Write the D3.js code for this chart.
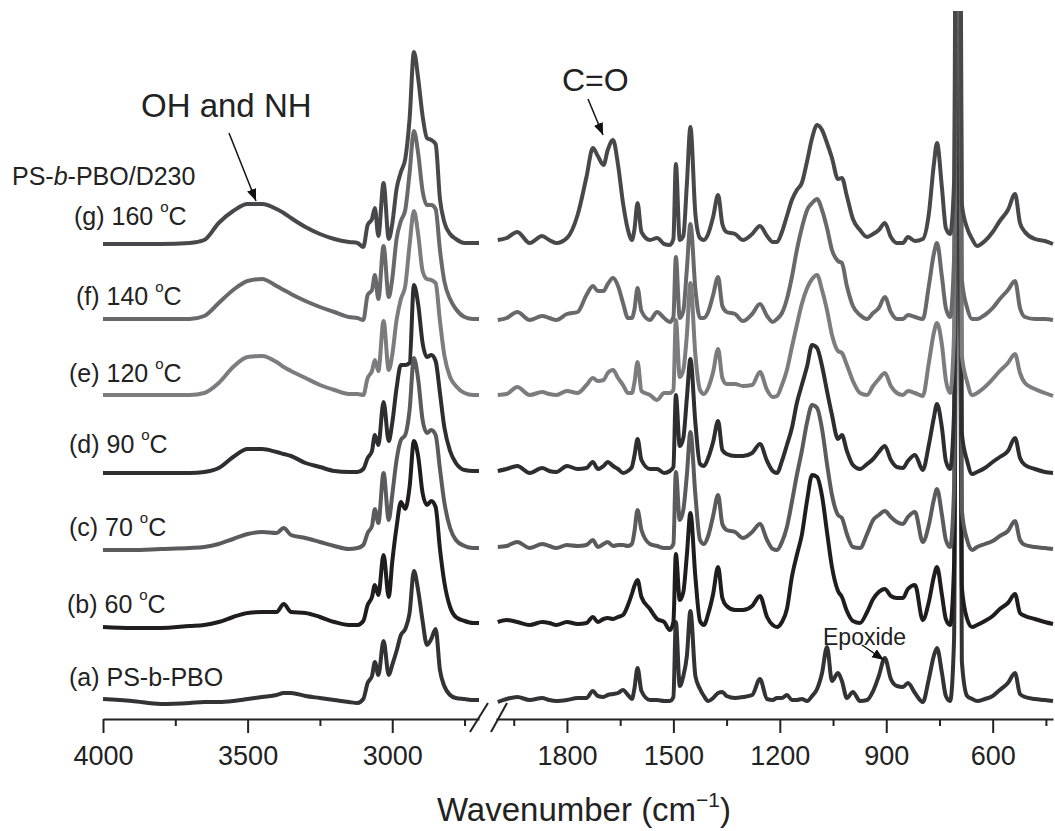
<!DOCTYPE html>
<html><head><meta charset="utf-8">
<script src="https://cdn.jsdelivr.net/npm/d3@7"></script>
<style>html,body{margin:0;padding:0;background:#fff;} svg{display:block;}</style>
</head><body>
<svg id="chart" width="1055" height="831"></svg>
<script>
// ---------- data ----------
const leftWavenumbers = [4000,3900,3800,3700,3650,3600,3550,3500,3450,3400,
  3375,3350,3300,3250,3200,3150,3120,3100,3085,3070,
  3060,3048,3030,3012,3000,2985,2970,2955,2940,2925,
  2910,2895,2880,2865,2850,2835,2820,2800,2780,2750,
  2720,2700];
const rightWavenumbers = [1995,1970,1940,1905,1870,1850,1830,1800,1770,1745,
  1727,1713,1697,1685,1670,1656,1642,1628,1617,1610,
  1601,1590,1566,1546,1526,1510,1500,1493,1482,1472,
  1462,1452,1438,1425,1414,1402,1388,1374,1362,1350,
  1326,1304,1278,1256,1236,1220,1208,1194,1180,1166,
  1152,1138,1123,1109,1095,1081,1067,1053,1036,1025,
  1011,994,974,954,937,921,904,887,870,853,
  839,819,797,780,766,757,743,732,720,709,
  698,687,672,658,644,622,600,580,557,537,
  523,509,481,453,430];

// intensities (a.u.) relative to each trace's own baseline
const aLeft = [2,0,-3,-2,-1,-1,0,2,4,6, 8,8,5,3,1,-1,-2,2,18,25, 39,26,60,26,36,50,66,72,88,130, 110,80,56,62,72,31,15,6,3,2, 1,1];
const bLeft = [0,-1,-1,1,2,5,10,14,15,15, 23,15,14,10,5,2,2,6,22,30, 42,32,72,30,65,100,125,118,140,186, 170,134,122,126,120,78,45,20,10,6, 4,4];
const cLeft = [0,0,1,2,3,6,11,16,18,17, 22,15,12,8,4,1,2,5,17,24, 41,27,77,30,55,90,110,115,140,192, 170,130,117,120,115,81,48,22,10,4, 2,2];
const dLeft = [0,0,0,0,1,5,16,24,24,21, 19,17,10,6,2,1,1,4,15,22, 38,28,71,32,50,85,108,108,110,188, 168,130,116,118,112,80,46,22,10,3, 2,2];
const eLeft = [0,0,0,0,2,12,28,38,39,33, 28,24,17,10,5,1,1,0,17,24, 35,24,74,25,40,75,96,109,150,184, 160,124,116,115,112,74,40,18,9,2, 0,0];
const fLeft = [0,0,0,0,3,16,29,38,40,33, 29,25,18,12,7,2,1,-1,24,29, 44,20,73,22,40,80,98,109,146,188, 165,128,114,114,110,69,38,20,10,2, 0,0];
const gLeft = [0,0,0,1,4,21,33,40,40,35, 31,26,17,10,5,2,1,-3,19,25, 36,8,61,5,20,55,72,85,125,192, 165,128,106,104,100,45,22,10,5,1, 1,1];

const aRight = [-1,2,4,1,3,1,0,1,3,3, 10,5,4,6,7,8,11,6,2,12, 33,10,1,1,0,0,4,79,15,25,
  45,90,25,12,5,0,3,8,9,5, 3,4,6,22,2,1,3,3,6,1, 1,2,0,5,12,28,54,20,28,20,
  3,9,0,1,10,25,43,22,15,14, 18,8,-1,22,45,53,28,5,0,60, 900,40,5,2,0,2,5,11,18,28, 7,4,2,1,0];
const bRight = [5,7,5,2,5,4,2,5,3,4, 10,5,8,9,8,10,12,22,33,41, 47,30,18,8,5,-3,5,73,27,35,
  72,114,50,6,2,13,33,60,29,21, 17,17,21,31,10,2,0,5,18,50, 72,92,127,152,150,131,95,60,36,30,
  16,6,4,15,28,35,38,31,29,29, 38,42,7,25,50,60,32,8,2,60, 900,40,8,0,2,6,11,18,24,33, 14,11,8,5,3];
const cRight = [3,4,8,2,6,4,2,5,4,5, 10,3,6,8,4,5,5,4,6,18, 40,20,6,4,2,2,6,78,30,40,
  75,118,55,10,6,14,34,55,26,20, 18,12,18,26,10,1,0,8,23,48, 75,99,128,145,142,121,86,55,35,32,
  16,3,2,16,30,35,39,33,28,26, 33,38,8,25,50,61,35,10,3,60, 900,40,10,0,3,6,9,14,19,29, 10,5,3,2,1];
const dRight = [2,4,7,0,5,2,1,7,4,5, 11,4,7,11,7,4,0,2,6,17, 34,13,4,4,0,2,6,78,27,35,
  75,114,50,9,7,15,31,52,23,19, 17,17,20,29,12,2,0,12,28,45, 70,88,107,128,125,107,82,58,34,38,
  22,8,4,9,14,21,27,13,6,5, 12,18,3,28,55,69,45,12,4,60, 900,40,12,-1,1,5,11,16,22,35, 15,8,4,1,0];
const eRight = [0,1,8,0,3,1,0,4,2,10, 17,14,15,22,25,17,10,2,2,12, 33,4,0,-5,2,2,5,75,18,25,
  60,112,40,5,1,7,23,46,17,11, 11,9,10,23,5,-2,-1,10,25,48, 70,91,107,116,120,105,85,60,44,42,
  30,14,2,0,9,16,22,9,2,0, 4,2,-1,32,62,72,50,15,2,60, 900,40,13,0,2,8,16,24,32,41, 22,12,6,2,-1];
const fRight = [-1,1,7,-1,3,1,-1,5,7,24, 33,28,28,35,41,33,16,1,1,9, 31,8,-1,7,1,-3,2,62,1,8,
  50,95,30,1,1,7,24,42,13,7, 5,-2,5,15,3,-3,0,6,20,42, 69,91,109,116,120,109,91,69,58,56,
  33,13,4,0,6,11,22,7,0,0, 4,2,0,33,65,76,42,11,2,60, 900,40,11,0,0,4,11,20,29,38, 11,2,0,0,-1];
const gRight = [4,6,12,1,8,4,1,6,29,67, 96,88,79,94,104,79,41,14,4,14, 41,12,4,6,0,-1,5,80,4,8,
  60,117,30,6,4,10,27,49,20,12, 10,4,10,18,8,2,2,12,28,44, 54,61,83,106,119,114,101,86,65,66,
  48,25,14,7,10,14,21,7,1,1, 7,3,5,30,79,101,56,16,10,60, 900,40,16,5,-2,3,12,23,34,50, 21,12,5,3,0];

const sampleLetters = ["a","b","c","d","e","f","g"];
const cureTemps = [null, 60, 70, 90, 120, 140, 160];
const traceOffsets = [18, 92, 169, 246, 324, 400, 475];

const leftMajorTicks = [4000, 3500, 3000];
const leftMinorTicks = [3750, 3250, 2750];
const rightMajorTicks = [1800, 1500, 1200, 900, 600];
const rightMinorTicks = [1950, 1650, 1350, 1050, 750, 450];

// ---------- drawing ----------
const traceColors = ["#333335","#201d1e","#5b5b5d","#2e2e30","#7c7c7e","#69696b","#48484a"];
const series = [
  {left:aLeft, right:aRight}, {left:bLeft, right:bRight}, {left:cLeft, right:cRight},
  {left:dLeft, right:dRight}, {left:eLeft, right:eRight}, {left:fLeft, right:fRight},
  {left:gLeft, right:gRight}
].map((s,i)=>({...s, letter:sampleLetters[i], temp:cureTemps[i], offset:traceOffsets[i], color:traceColors[i]}));

const svg = d3.select("#chart");
const font = "'Liberation Sans', Arial, Helvetica, sans-serif";
const xLeft = d3.scaleLinear().domain([4000, 2700]).range([103, 479]);
const xRight = d3.scaleLinear().domain([2000, 430]).range([496, 1053]);
const y = d3.scaleLinear().domain([0, 719]).range([719, 0]);

const defs = svg.append("defs");
defs.append("clipPath").attr("id","plotclip").append("rect")
  .attr("x",0).attr("y",11).attr("width",1055).attr("height",708);
defs.append("marker").attr("id","arrow").attr("viewBox","0 0 10 10")
  .attr("refX",10).attr("refY",5).attr("markerWidth",12).attr("markerHeight",12)
  .attr("markerUnits","userSpaceOnUse").attr("orient","auto")
  .append("path").attr("d","M0,1 L10,5 L0,9 Z").attr("fill","#111");

const plot = svg.append("g").attr("clip-path","url(#plotclip)");
series.forEach(s => {
  const lineL = d3.line().x((d,i)=>xLeft(leftWavenumbers[i])).y(d=>y(d + s.offset)).curve(d3.curveMonotoneX);
  const lineR = d3.line().x((d,i)=>xRight(rightWavenumbers[i])).y(d=>y(d + s.offset)).curve(d3.curveMonotoneX);
  plot.append("path").attr("d", lineL(s.left)).attr("fill","none").attr("stroke",s.color)
    .attr("stroke-width",4).attr("stroke-linejoin","round");
  plot.append("path").attr("d", lineR(s.right)).attr("fill","none").attr("stroke",s.color)
    .attr("stroke-width",4).attr("stroke-linejoin","round");
});

// axes
function styleAxis(g){
  g.selectAll("path.domain").attr("stroke","#222").attr("stroke-width",2);
  g.selectAll(".tick line").attr("stroke","#222").attr("stroke-width",2);
  g.selectAll(".tick text").attr("fill","#222").style("font-family",font).style("font-size","27px");
}
const axisY = 719;
[[xLeft,leftMajorTicks,leftMinorTicks],[xRight,rightMajorTicks,rightMinorTicks]].forEach(([sc,maj,min])=>{
  const gMaj = svg.append("g").attr("transform",`translate(0,${axisY})`)
    .call(d3.axisBottom(sc).tickValues(maj).tickSize(14).tickSizeOuter(0).tickPadding(13).tickFormat(d3.format("d")));
  styleAxis(gMaj);
  const gMin = svg.append("g").attr("transform",`translate(0,${axisY})`)
    .call(d3.axisBottom(sc).tickValues(min).tickSize(7).tickSizeOuter(0).tickFormat(""));
  gMin.select("path.domain").remove();
  styleAxis(gMin);
});
// axis break
svg.append("line").attr("x1",470).attr("y1",732).attr("x2",488).attr("y2",703).attr("stroke","#222").attr("stroke-width",2);
svg.append("line").attr("x1",491).attr("y1",732).attr("x2",507).attr("y2",703).attr("stroke","#222").attr("stroke-width",2);

// axis title
const title = svg.append("text").attr("x",584).attr("y",821).attr("text-anchor","middle")
  .style("font-family",font).style("font-size","33px").attr("fill","#222");
title.append("tspan").text("Wavenumber (cm");
title.append("tspan").text("\u22121").style("font-size","21px").attr("dy",-14);
title.append("tspan").text(")").attr("dy",14);

// trace labels
const labelPos = [[69,686],[67,613],[69,536],[69,453],[69,382],[76,305],[74,225]];
series.forEach((s,i)=>{
  const t = svg.append("text").attr("x",labelPos[i][0]).attr("y",labelPos[i][1])
    .style("font-family",font).style("font-size","25px").attr("fill","#222");
  if (s.temp === null) {
    t.text(`(${s.letter}) PS-b-PBO`);
  } else {
    t.append("tspan").text(`(${s.letter}) ${s.temp} `);
    t.append("tspan").text("o").style("font-size","15px").attr("dy",-13);
    t.append("tspan").text("C").attr("dy",13);
  }
});
const head = svg.append("text").attr("x",12).attr("y",185)
  .style("font-family",font).style("font-size","25px").attr("fill","#222");
head.append("tspan").text("PS-");
head.append("tspan").text("b").style("font-style","italic");
head.append("tspan").text("-PBO/D230");

// annotations
function annot(txt, tx, ty, fs, x1, y1, x2, y2){
  svg.append("text").attr("x",tx).attr("y",ty).text(txt)
    .style("font-family",font).style("font-size",fs+"px").attr("fill","#222");
  svg.append("line").attr("x1",x1).attr("y1",y1).attr("x2",x2).attr("y2",y2)
    .attr("stroke","#111").attr("stroke-width",1.5).attr("marker-end","url(#arrow)");
}
annot("OH and NH", 141, 117, 33, 229, 133, 256, 201);
annot("C=O", 562, 91, 32, 588, 99, 603, 135);
annot("Epoxide", 823, 645, 23, 862, 645, 884, 660);
</script>
</body></html>
